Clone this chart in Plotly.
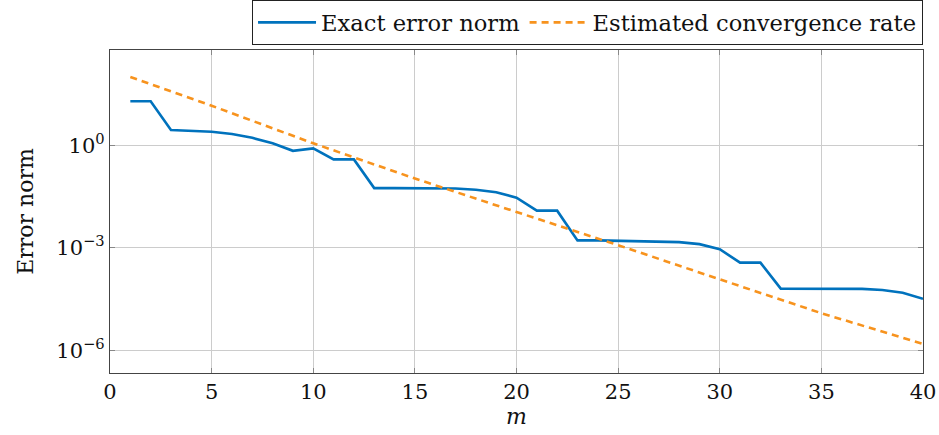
import plotly.graph_objects as go

# Data (log10 of error values)
m_exact = list(range(1, 41))
log_exact = [1.29, 1.29, 0.45, 0.43, 0.40, 0.33, 0.22, 0.06, -0.16, -0.09,
             -0.41, -0.41, -1.25, -1.25, -1.25, -1.25, -1.26, -1.30, -1.37, -1.53,
             -1.91, -1.91, -2.78, -2.78, -2.79, -2.79, -2.80, -2.83, -2.89, -3.04,
             -3.43, -3.43, -4.19, -4.19, -4.19, -4.19, -4.20, -4.23, -4.31, -4.49]
exact_err = [10 ** v for v in log_exact]

m_rate = [1, 5, 10, 15, 20, 25, 30, 35, 40]
log_rate = [2.0, 1.16, 0.06, -0.97, -1.95, -2.92, -3.92, -4.91, -5.81]
rate_err = [10 ** v for v in log_rate]

x_ticks = [0, 5, 10, 15, 20, 25, 30, 35, 40]
y_tickvals = [1e0, 1e-3, 1e-6]
y_ticktext = ["10<sup>0</sup>", "10<sup>\u22123</sup>", "10<sup>\u22126</sup>"]

font_family = "DejaVu Serif"

fig = go.Figure()
fig.add_trace(go.Scatter(
    x=m_exact, y=exact_err, mode="lines", name="Exact error norm",
    line=dict(color="#0072BD", width=2.6),
))
fig.add_trace(go.Scatter(
    x=m_rate, y=rate_err, mode="lines", name="Estimated convergence rate",
    line=dict(color="#F7931E", width=2.6, dash="7px,5px"),
))

axis_common = dict(
    showline=True, linecolor="#444444", linewidth=1.2, mirror="ticks",
    ticks="inside", ticklen=5, tickcolor="#888888", tickwidth=1,
    showgrid=True, gridcolor="#cccccc", gridwidth=1, zeroline=False,
    tickfont=dict(family=font_family, size=21, color="#111111"),
)

fig.update_layout(
    width=939, height=435,
    margin=dict(l=110, r=16, t=50, b=62, autoexpand=False),
    paper_bgcolor="white", plot_bgcolor="white",
    font=dict(family=font_family, size=21, color="#111111"),
    showlegend=True,
    legend=dict(
        orientation="h", x=0.1747, xanchor="left", y=1.015, yanchor="bottom",
        bordercolor="#222222", borderwidth=1, bgcolor="white",
        font=dict(family=font_family, size=22.6, color="#111111"),
        itemwidth=58, tracegroupgap=0,
    ),
    xaxis=dict(
        range=[0, 40], tickvals=x_ticks,
        title=dict(text="<i>m</i>", font=dict(family=font_family, size=22), standoff=4),
        **axis_common,
    ),
    yaxis=dict(
        type="log", range=[-6.66, 2.79],
        tickvals=y_tickvals, ticktext=y_ticktext,
        title=dict(text="Error norm", font=dict(family=font_family, size=22), standoff=16),
        **axis_common,
    ),
)

# Remove the browser's default body margin so the figure fills the window exactly.
fig.write_html("out.html", config={"displayModeBar": False},
               post_script="document.body.style.margin='0';")
